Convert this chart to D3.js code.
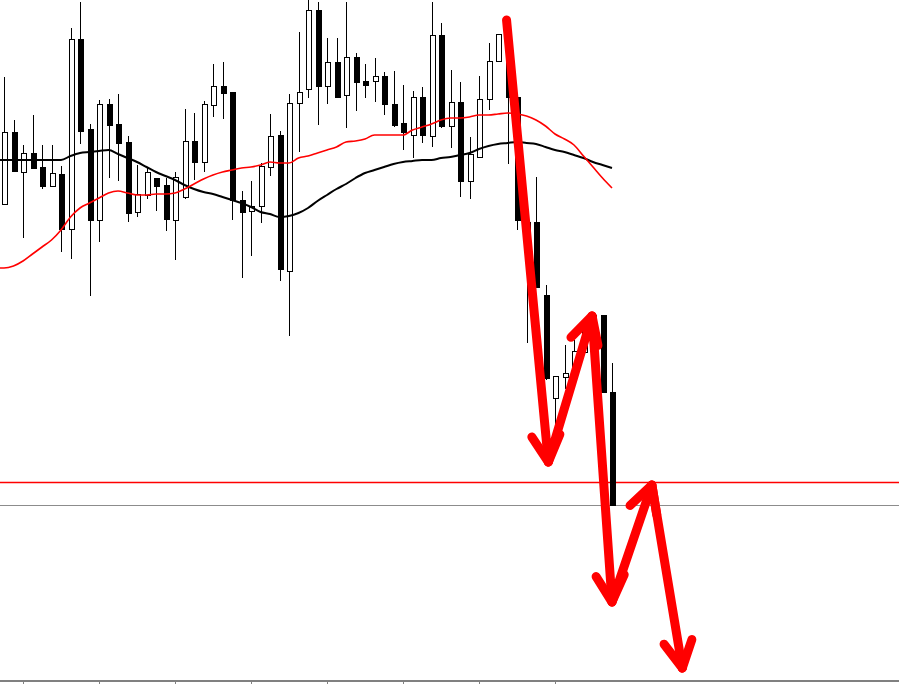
<!DOCTYPE html>
<html>
<head>
<meta charset="utf-8">
<script src="https://cdn.jsdelivr.net/npm/d3@7/dist/d3.min.js"></script>
<style>
html,body{margin:0;padding:0;background:#fff;overflow:hidden;}
svg{display:block;}
</style>
</head>
<body>
<svg id="chart" width="899" height="684"></svg>
<script>
// ---- data (prices) ----
const opens  = [1.1296,1.1368,1.1328,1.1347,1.1333,1.1314,1.1326,1.1271,1.1461,1.1371,1.1280,1.1396,1.1376,1.1358,1.1288,1.1305,1.1322,1.1315,1.1280,1.1303,1.1359,1.1338,1.1395,1.1414,1.1408,1.1300,1.1289,1.1294,1.1333,1.1365,1.1229,1.1397,1.1411,1.1490,1.1414,1.1438,1.1405,1.1443,1.1419,1.1419,1.1424,1.1396,1.1377,1.1365,1.1403,1.1364,1.1465,1.1374,1.1398,1.1319,1.1343,1.1401,1.1439,1.1466,1.1403,1.1278,1.1278,1.1205,1.1102,1.1123,1.1128,1.1148,1.1182,1.1185,1.1108];
const highs  = [1.1423,1.1380,1.1355,1.1385,1.1355,1.1355,1.1334,1.1472,1.1498,1.1376,1.1400,1.1401,1.1406,1.1364,1.1335,1.1332,1.1322,1.1322,1.1328,1.1391,1.1387,1.1399,1.1436,1.1438,1.1408,1.1309,1.1319,1.1337,1.1386,1.1369,1.1406,1.1468,1.1500,1.1498,1.1462,1.1462,1.1498,1.1447,1.1436,1.1442,1.1428,1.1429,1.1415,1.1409,1.1413,1.1498,1.1477,1.1430,1.1418,1.1363,1.1424,1.1457,1.1466,1.1470,1.1405,1.1280,1.1323,1.1215,1.1124,1.1155,1.1160,1.1170,1.1185,1.1185,1.1137];
const lows   = [1.1296,1.1328,1.1262,1.1332,1.1311,1.1313,1.1248,1.1241,1.1356,1.1204,1.1258,1.1322,1.1319,1.1278,1.1283,1.1301,1.1289,1.1269,1.1240,1.1301,1.1320,1.1328,1.1383,1.1381,1.1280,1.1222,1.1244,1.1277,1.1324,1.1219,1.1164,1.1348,1.1402,1.1375,1.1396,1.1403,1.1372,1.1389,1.1402,1.1398,1.1385,1.1373,1.1350,1.1342,1.1357,1.1353,1.1372,1.1352,1.1303,1.1301,1.1343,1.1390,1.1438,1.1336,1.1270,1.1157,1.1213,1.1120,1.1067,1.1111,1.1128,1.1145,1.1180,1.1108,1.0995];
const closes = [1.1368,1.1329,1.1347,1.1332,1.1314,1.1327,1.1271,1.1461,1.1369,1.1280,1.1396,1.1375,1.1357,1.1287,1.1306,1.1328,1.1314,1.1281,1.1323,1.1359,1.1338,1.1396,1.1414,1.1407,1.1300,1.1288,1.1294,1.1334,1.1364,1.1231,1.1397,1.1408,1.1490,1.1414,1.1438,1.1403,1.1443,1.1418,1.1415,1.1424,1.1396,1.1375,1.1368,1.1403,1.1365,1.1465,1.1374,1.1398,1.1319,1.1346,1.1401,1.1439,1.1466,1.1403,1.1280,1.1250,1.1213,1.1122,1.1124,1.1127,1.1149,1.1180,1.1185,1.1108,1.0995];

// moving averages (one value per bar)
const maSlow = [1.1340,1.1340,1.1340,1.1340,1.1340,1.1340,1.1340,1.1344,1.1347,1.1348,1.1349,1.1350,1.1346,1.1342,1.1338,1.1333,1.1328,1.1324,1.1320,1.1315,1.1311,1.1308,1.1306,1.1303,1.1300,1.1297,1.1293,1.1288,1.1286,1.1283,1.1284,1.1287,1.1292,1.1299,1.1305,1.1311,1.1316,1.1322,1.1327,1.1330,1.1333,1.1336,1.1338,1.1339,1.1340,1.1340,1.1342,1.1343,1.1345,1.1347,1.1351,1.1354,1.1356,1.1357,1.1358,1.1357,1.1356,1.1353,1.1350,1.1348,1.1345,1.1342,1.1338,1.1335,1.1332];
const maFast = [1.1232,1.1234,1.1239,1.1246,1.1253,1.1260,1.1270,1.1283,1.1292,1.1297,1.1302,1.1307,1.1309,1.1307,1.1305,1.1305,1.1306,1.1306,1.1307,1.1311,1.1316,1.1321,1.1325,1.1328,1.1330,1.1332,1.1333,1.1335,1.1338,1.1337,1.1337,1.1342,1.1344,1.1347,1.1350,1.1353,1.1358,1.1359,1.1361,1.1365,1.1365,1.1365,1.1365,1.1370,1.1373,1.1376,1.1380,1.1382,1.1382,1.1383,1.1385,1.1385,1.1386,1.1387,1.1386,1.1384,1.1380,1.1374,1.1366,1.1361,1.1355,1.1344,1.1333,1.1322,1.1312];

// horizontal levels
const levelPrices = [1.1018, 1.0995];
const levelColors = ["#ff0000", "#8c8c8c"];

// time-axis tick bars
const tickBars = [2, 10, 18, 26, 34, 42, 50, 58];

// hand-drawn zigzag arrow (bar position, price)
const arrowBars   = [52.9, 57.3, 61.9, 64.0, 68.2, 71.4];
const arrowPrices = [1.1480, 1.1038, 1.1184, 1.0898, 1.1015, 1.0832];

// ---- drawing ----
const W = 899, H = 684;
const svg = d3.select("#chart");
svg.append("rect").attr("width", W).attr("height", H).attr("fill", "#fff");

const x = d3.scaleLinear().domain([0, 64]).range([4, 612]);
const y = d3.scaleLinear().domain([1.0816, 1.1500]).range([684, 0]);

const bars = opens.map((o, i) => ({i, o, h: highs[i], l: lows[i], c: closes[i]}));

// levels
const lv = svg.append("g");
levelPrices.forEach((p, k) => {
  lv.append("line")
    .attr("x1", 0).attr("x2", W)
    .attr("y1", Math.round(y(p)) + 0.5).attr("y2", Math.round(y(p)) + 0.5)
    .attr("stroke", levelColors[k])
    .attr("stroke-width", k === 0 ? 1.6 : 1);
});

// candles
const cg = svg.append("g").attr("shape-rendering", "crispEdges");
cg.selectAll("line.wick").data(bars).join("line")
  .attr("class", "wick")
  .attr("x1", d => Math.round(x(d.i)) + 0.5).attr("x2", d => Math.round(x(d.i)) + 0.5)
  .attr("y1", d => y(d.h)).attr("y2", d => y(d.l))
  .attr("stroke", "#000").attr("stroke-width", 1);

cg.selectAll("rect.body").data(bars).join("rect")
  .attr("class", "body")
  .attr("x", d => Math.round(x(d.i)) - 2.5 + 0.5)
  .attr("width", 5)
  .attr("y", d => y(Math.max(d.o, d.c)))
  .attr("height", d => Math.max(1, Math.abs(y(d.o) - y(d.c))))
  .attr("fill", d => d.c >= d.o ? "#fff" : "#000")
  .attr("stroke", "#000").attr("stroke-width", 1);

// moving averages (extended to the left edge)
const lineGen = d3.line().x(d => d[0]).y(d => y(d[1])).curve(d3.curveMonotoneX);
const withEdge = arr => [[0, arr[0]]].concat(arr.map((v, i) => [x(i), v]));
svg.append("path").datum(withEdge(maSlow)).attr("d", lineGen)
  .attr("fill", "none").attr("stroke", "#000").attr("stroke-width", 2);
svg.append("path").datum(withEdge(maFast)).attr("d", lineGen)
  .attr("fill", "none").attr("stroke", "#ff0000").attr("stroke-width", 1.6);

// bottom time axis
const axisG = svg.append("g").attr("transform", "translate(0,681)");
const xAxis = d3.axisBottom(x).tickValues(tickBars).tickSize(4).tickFormat("");
axisG.call(xAxis);
axisG.select(".domain").attr("d", `M0,0H${W}`).attr("stroke", "#808080").attr("stroke-width", 2);
axisG.selectAll(".tick line").attr("stroke", "#808080").attr("stroke-width", 1);

// zigzag arrow annotation
const pts = arrowBars.map((b, k) => [x(b), y(arrowPrices[k])]);
const ag = svg.append("g").attr("stroke", "#ff0000").attr("stroke-width", 9)
  .attr("stroke-linecap", "round").attr("stroke-linejoin", "round").attr("fill", "none");
ag.append("path").attr("d", d3.line()(pts));
const headLen = 30, headAng = 28 * Math.PI / 180;
for (let k = 1; k < pts.length; k++) {
  const [x0, y0] = pts[k - 1], [x1, y1] = pts[k];
  const a = Math.atan2(y0 - y1, x0 - x1);
  [a + headAng, a - headAng].forEach(b => {
    ag.append("line")
      .attr("x1", x1).attr("y1", y1)
      .attr("x2", x1 + headLen * Math.cos(b)).attr("y2", y1 + headLen * Math.sin(b));
  });
}
</script>
</body>
</html>
